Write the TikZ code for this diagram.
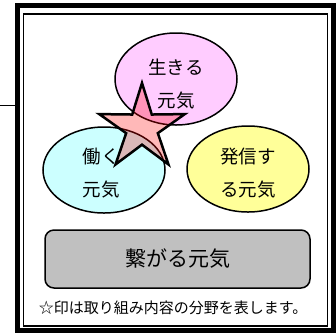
\documentclass[tikz,border=0pt]{standalone}
\usepackage{fontspec}
\setmainfont{Noto Sans CJK JP}
\usetikzlibrary{shapes.geometric}

\definecolor{ikiru}{RGB}{255,204,255}
\definecolor{hataraku}{RGB}{204,255,255}
\definecolor{hasshin}{RGB}{255,255,153}
\definecolor{tsunagu}{RGB}{192,192,192}

\tikzset{
  genki/.style={ellipse, draw=black, line width=1.5pt, inner sep=0pt,
    minimum width=122pt, minimum height=86pt},
  genkitext/.style={inner sep=0pt, align=center,
    font=\fontsize{18.5}{33}\selectfont},
  kanten/.style={star, star points=5, star point ratio=2.7, draw=black,
    line width=2.5pt, fill=red, fill opacity=0.28, draw opacity=1,
    minimum size=90pt, inner sep=0pt}
}

\begin{document}
\begin{tikzpicture}[x=1pt,y=-1pt]
\useasboundingbox (0,0) rectangle (336,333);
\draw [black, line width=5pt] (17,5.5) rectangle (333.5,330.5);
\draw [black, line width=1.5pt] (23.5,14) rectangle (327.5,326);
\coordinate (lead) at (0,105);
\coordinate (leadend) at (15,105);
\draw [black, line width=1pt] (lead) -- (leadend);
\node (ikiru) [genki, fill=ikiru, minimum height=92pt] at (176,79) {};
\node (ikiru-t) [genkitext] at ([yshift=-5pt]ikiru) {生きる\\元気};
\node (hataraku) [genki, fill=hataraku] at (104,170) {};
\node (hataraku-t) [genkitext] at ([xshift=-3pt,yshift=-3pt]hataraku) {働く\\元気};
\node (hasshin) [genki, fill=hasshin] at (248,169) {};
\node (hasshin-t) [genkitext] at ([yshift=-4pt]hasshin) {発信す\\る元気};
\node (tsunagu) [draw=black, line width=1.5pt, fill=tsunagu, rounded corners=9pt,
  minimum width=265pt, minimum height=58pt, inner sep=0pt,
  font=\fontsize{21}{25}\selectfont] at (177.5,259) {繋がる元気};
\node (chui) [font=\fontsize{15}{18}\selectfont, inner sep=0pt] at (173,308) {☆印は取り組み内容の分野を表します。};
\node (kanten) [kanten] at (142,128) {};
\end{tikzpicture}
\end{document}
